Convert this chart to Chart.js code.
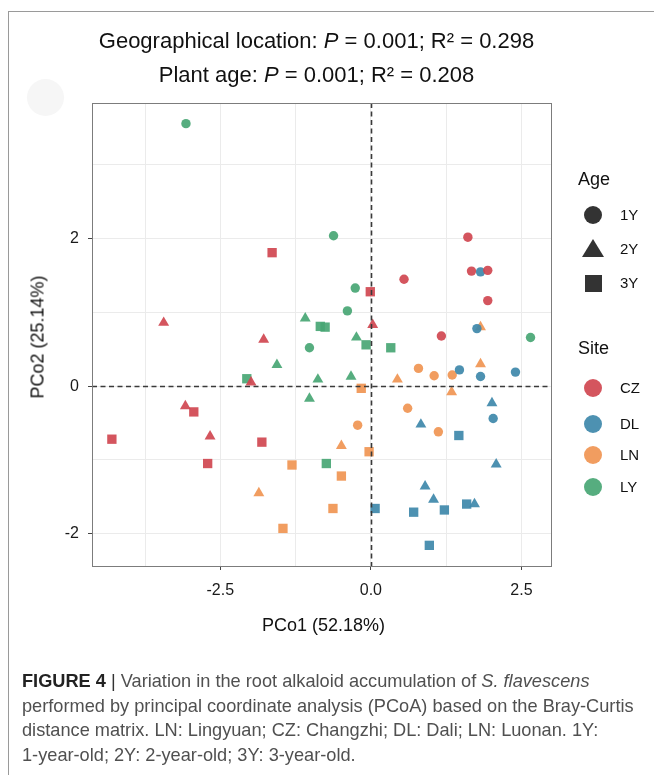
<!DOCTYPE html>
<html>
<head>
<meta charset="utf-8">
<script src="https://cdn.jsdelivr.net/npm/chart.js@4.4.0/dist/chart.umd.min.js"></script>
<style>
  body { margin: 0; background: #fff; font-family: "Liberation Sans", Arial, sans-serif; }
  #wrap { position: relative; width: 654px; height: 775px; overflow: hidden; }
  #frame { position: absolute; left: 8px; top: 11px; width: 700px; height: 800px;
           border-left: 1px solid #9a9a9a; border-top: 1px solid #9a9a9a; }
  #blob { position: absolute; left: 27px; top: 79px; width: 37px; height: 37px;
          border-radius: 50%; background: #f6f6f6; }
  canvas { position: absolute; left: 0; top: 0; }
  .t { position: absolute; white-space: nowrap; color: #111; }
  .title { left: 0; width: 633px; text-align: center; font-size: 22px; }
  .axt { font-size: 18px; }
  .lgt { font-size: 18px; left: 578px; }
  .lgl { font-size: 15px; left: 620px; }
  .sym { position: absolute; }
  .cap { left: 22px; font-size: 18.2px; color: #505050; }
</style>
</head>
<body>
<div id="wrap">
  <div id="frame"></div>
  <div id="blob"></div>
  <canvas id="pcoa" width="654" height="775"></canvas>

  <div class="t title" style="top:28px">Geographical location: <i>P</i> = 0.001; R² = 0.298</div>
  <div class="t title" style="top:62px">Plant age: <i>P</i> = 0.001; R² = 0.208</div>

  <div class="t axt" style="left:262px; top:615px">PCo1 (52.18%)</div>
  <div class="t axt" style="left:38px; top:337px; transform: translate(-50%,-50%) rotate(-90deg)">PCo2 (25.14%)</div>

  <div id="legend"></div>

  <div class="t cap" style="top:671px"><b style="color:#222">FIGURE 4</b> <span style="color:#333">|</span> Variation in the root alkaloid accumulation of <i>S. flavescens</i></div>
  <div class="t cap" style="top:696px">performed by principal coordinate analysis (PCoA) based on the Bray-Curtis</div>
  <div class="t cap" style="top:720px">distance matrix. LN: Lingyuan; CZ: Changzhi; DL: Dali; LN: Luonan. 1Y:</div>
  <div class="t cap" style="top:745px">1-year-old; 2Y: 2-year-old; 3Y: 3-year-old.</div>
</div>

<script>
// PCo1 / PCo2 coordinates, one array per site and age
const CZ_1Y = [[1.61, 2.02], [1.67, 1.56], [1.94, 1.57], [0.55, 1.45], [1.94, 1.16], [1.17, 0.68]];
const CZ_2Y = [[-3.44, 0.86], [0.03, 0.83], [-1.78, 0.63], [-1.99, 0.05], [-3.08, -0.27], [-2.67, -0.68]];
const CZ_3Y = [[-1.64, 1.81], [-0.01, 1.28], [-2.94, -0.35], [-4.30, -0.72], [-1.81, -0.76], [-2.71, -1.05]];

const DL_1Y = [[1.82, 1.55], [1.76, 0.78], [1.47, 0.22], [1.82, 0.13], [2.40, 0.19], [2.03, -0.44]];
const DL_2Y = [[2.01, -0.23], [0.83, -0.52], [2.08, -1.06], [0.90, -1.36], [1.04, -1.54], [1.72, -1.60]];
const DL_3Y = [[1.46, -0.67], [1.59, -1.60], [0.07, -1.66], [0.71, -1.71], [1.22, -1.68], [0.97, -2.16]];

const LN_1Y = [[0.79, 0.24], [1.05, 0.14], [1.35, 0.15], [0.61, -0.30], [-0.22, -0.53], [1.12, -0.62]];
const LN_2Y = [[1.82, 0.80], [1.82, 0.30], [0.44, 0.09], [1.34, -0.08], [-0.49, -0.81], [-1.86, -1.45]];
const LN_3Y = [[-0.16, -0.03], [-0.03, -0.89], [-0.49, -1.22], [-0.63, -1.66], [-1.31, -1.07], [-1.46, -1.93]];

const LY_1Y = [[-3.07, 3.56], [-0.62, 2.04], [-0.26, 1.33], [-0.39, 1.02], [2.65, 0.66], [-1.02, 0.52]];
const LY_2Y = [[-1.09, 0.92], [-0.24, 0.66], [-1.56, 0.29], [-0.88, 0.09], [-0.33, 0.13], [-1.02, -0.17]];
const LY_3Y = [[-0.84, 0.81], [-0.76, 0.80], [-0.08, 0.56], [0.33, 0.52], [-2.06, 0.10], [-0.74, -1.05]];

const sites = ["CZ", "DL", "LN", "LY"];
const ages = ["1Y", "2Y", "3Y"];
const siteColors = ["rgba(208,71,80,0.92)", "rgba(62,136,170,0.92)", "rgba(240,149,82,0.92)", "rgba(72,166,116,0.92)"];
const ageShapes = ["circle", "triangle", "rect"];
const ageRadius = [4.7, 6.3, 6.6];

const xGrid = [-3.75, -2.5, -1.25, 0, 1.25, 2.5];
const xLabelled = [-2.5, 0, 2.5];
const yGrid = [-2, -1, 0, 1, 2, 3];
const yLabelled = [-2, 0, 2];

const groups = {
  CZ: [CZ_1Y, CZ_2Y, CZ_3Y],
  DL: [DL_1Y, DL_2Y, DL_3Y],
  LN: [LN_1Y, LN_2Y, LN_3Y],
  LY: [LY_1Y, LY_2Y, LY_3Y],
};

const datasets = [];
sites.forEach((s, si) => {
  ages.forEach((a, ai) => {
    datasets.push({
      label: s + " " + a,
      data: groups[s][ai].map(([x, y]) => ({ x, y })),
      pointStyle: ageShapes[ai],
      pointRadius: ageRadius[ai],
      pointBackgroundColor: siteColors[si],
      pointBorderWidth: 0,
      pointHoverRadius: ageRadius[ai],
    });
  });
});

// zero reference lines on top of the points, plus the panel border
const zeroLines = {
  id: "zeroLines",
  afterDatasetsDraw(chart) {
    const { ctx, chartArea: a, scales } = chart;
    const x0 = Math.round(scales.x.getPixelForValue(0)) + 0.5;
    const y0 = Math.round(scales.y.getPixelForValue(0)) + 0.5;
    ctx.save();
    ctx.strokeStyle = "#3a3a3a";
    ctx.lineWidth = 1.6;
    ctx.setLineDash([5, 3.5]);
    ctx.beginPath();
    ctx.moveTo(x0, a.top);
    ctx.lineTo(x0, a.bottom);
    ctx.moveTo(a.left, y0);
    ctx.lineTo(a.right, y0);
    ctx.stroke();
    ctx.setLineDash([]);
    ctx.strokeStyle = "#7c7c7c";
    ctx.lineWidth = 1;
    ctx.strokeRect(Math.round(a.left) + 0.5, Math.round(a.top) + 0.5,
      Math.round(a.right - a.left), Math.round(a.bottom - a.top));
    ctx.restore();
  },
};

const tickFont = { family: "'Liberation Sans', Arial, sans-serif", size: 16 };

new Chart(document.getElementById("pcoa"), {
  type: "scatter",
  data: { datasets },
  options: {
    responsive: false,
    animation: false,
    layout: { padding: { left: 0, top: 103, right: 103, bottom: 169 } },
    plugins: { legend: { display: false }, tooltip: { enabled: false } },
    scales: {
      x: {
        type: "linear",
        min: -4.63,
        max: 2.99,
        afterBuildTicks: (scale) => { scale.ticks = xGrid.map((v) => ({ value: v })); },
        afterFit: (scale) => { scale.height = 40; },
        border: { display: false },
        grid: {
          color: "#ebebeb",
          tickLength: 4,
          tickColor: (c) => (c.tick && xLabelled.includes(c.tick.value) ? "#444" : "rgba(0,0,0,0)"),
        },
        ticks: {
          autoSkip: false,
          maxRotation: 0,
          padding: 11,
          color: "#1a1a1a",
          font: tickFont,
          callback: (v) => (xLabelled.includes(v) ? v.toFixed(1) : ""),
        },
      },
      y: {
        type: "linear",
        min: -2.44,
        max: 3.84,
        afterBuildTicks: (scale) => { scale.ticks = yGrid.map((v) => ({ value: v })); },
        afterFit: (scale) => { scale.width = 92; },
        border: { display: false },
        grid: {
          color: "#ebebeb",
          tickLength: 4,
          tickColor: (c) => (c.tick && yLabelled.includes(c.tick.value) ? "#444" : "rgba(0,0,0,0)"),
        },
        ticks: {
          autoSkip: false,
          padding: 9,
          color: "#1a1a1a",
          font: tickFont,
          callback: (v) => (yLabelled.includes(v) ? String(v) : ""),
        },
      },
    },
  },
  plugins: [zeroLines],
});

// legend built as plain html
const lg = document.getElementById("legend");
let html = '<div class="t lgt" style="top:169px">Age</div>';
const ageY = [215, 249, 283];
ages.forEach((a, i) => {
  const cy = ageY[i];
  if (i === 0) html += `<div class="sym" style="left:584px;top:${cy - 9}px;width:18px;height:18px;border-radius:50%;background:#333"></div>`;
  if (i === 1) html += `<div class="sym" style="left:582px;top:${cy - 10}px;width:0;height:0;border-left:11px solid transparent;border-right:11px solid transparent;border-bottom:18px solid #333"></div>`;
  if (i === 2) html += `<div class="sym" style="left:585px;top:${cy - 8}px;width:17px;height:17px;background:#333"></div>`;
  html += `<div class="t lgl" style="top:${cy - 9}px">${a}</div>`;
});
html += '<div class="t lgt" style="top:338px">Site</div>';
const siteY = [388, 424, 455, 487];
sites.forEach((s, i) => {
  const cy = siteY[i];
  html += `<div class="sym" style="left:584px;top:${cy - 9}px;width:18px;height:18px;border-radius:50%;background:${siteColors[i]}"></div>`;
  html += `<div class="t lgl" style="top:${cy - 9}px">${s}</div>`;
});
lg.innerHTML = html;
</script>
</body>
</html>
